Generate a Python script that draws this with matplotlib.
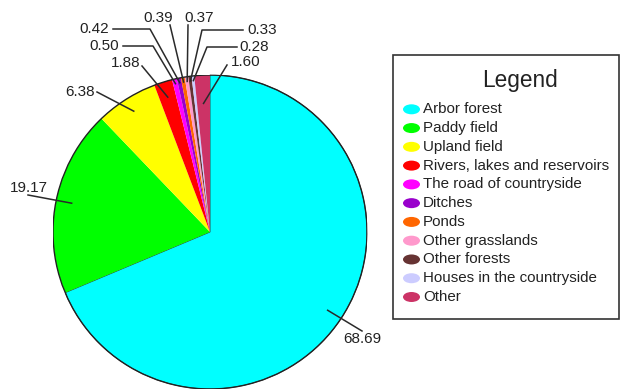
import numpy as np
import matplotlib
matplotlib.use("Agg")
import matplotlib.pyplot as plt
from matplotlib.patches import Ellipse, Rectangle, Circle

plt.rcParams['font.family'] = ['Liberation Sans', 'DejaVu Sans']

# Land-use composition (%)
categories = [
    "Arbor forest", "Paddy field", "Upland field", "Rivers, lakes and reservoirs",
    "The road of countryside", "Ditches", "Ponds", "Other grasslands",
    "Other forests", "Houses in the countryside", "Other",
]
values = [68.69, 19.17, 6.38, 1.88, 0.50, 0.42, 0.39, 0.37, 0.33, 0.28, 1.60]
value_labels = ["68.69", "19.17", "6.38", "1.88", "0.50", "0.42", "0.39",
                "0.37", "0.33", "0.28", "1.60"]
colors = ["#00FFFF", "#00FF00", "#FFFF00", "#FF0000", "#FF00FF", "#9900CC",
          "#FF6600", "#FF99CC", "#663333", "#CCCCFF", "#CC3366"]

W, H = 622, 389
fig = plt.figure(figsize=(W / 100, H / 100), dpi=100)

# Pie axes: centre (210, 232) px, radius 157 px
cx, cy, R = 210, 232, 157
ax = fig.add_axes([(cx - R) / W, 1 - (cy + R) / H, 2 * R / W, 2 * R / H])
ax.axis("off")

wedges, _ = ax.pie(values, colors=colors, startangle=90, counterclock=False,
                   radius=1.0, wedgeprops=dict(linewidth=0))
ax.set_xlim(-1, 1)
ax.set_ylim(-1, 1)
wedges[0].set_edgecolor("#333333")
wedges[0].set_linewidth(0.6)
ax.add_patch(Circle((0, 0), 1.0, fill=False, edgecolor="#222222", linewidth=1.0, zorder=5))

# Overlay in pixel coordinates for labels and legend
ov = fig.add_axes([0, 0, 1, 1], facecolor="none")
ov.set_xlim(0, W)
ov.set_ylim(H, 0)
ov.axis("off")

# Label layout: text centre, optional elbow point, radius of the leader's inner end
label_layout = [
    ((362, 339), None, 0.90),
    ((29, 188), None, 0.90),
    ((80, 92), None, 0.91),
    ((126, 63), None, 0.90),
    ((104, 46), (153, 46), 0.97),
    ((94, 29), (150, 29), 0.97),
    ((158, 18), None, 0.97),
    ((199, 18), None, 0.97),
    ((262, 30), (202, 30), 0.97),
    ((254, 47), (207, 47), 0.97),
    ((246, 62), None, 0.82),
]
leader_start = [
    (362, 331), (28, 195), (97, 92), (142, 66), (123, 46), (113, 29),
    (170, 25), (188, 25), (243, 30), (237, 47), (227, 65),
]

fig.canvas.draw()
to_px = lambda p: ov.transData.inverted().transform(ax.transData.transform(p))

total = sum(values)
cum = 0.0
for i, v in enumerate(values):
    mid = np.deg2rad(90 - 360 * (cum + v / 2) / total)
    cum += v
    (tx, ty), elbow, r_in = label_layout[i]
    inner = to_px((r_in * np.cos(mid), r_in * np.sin(mid)))
    pts = [leader_start[i]]
    if elbow is not None:
        pts.append(elbow)
    pts.append(tuple(inner))
    xs, ys = zip(*pts)
    ov.plot(xs, ys, color="#2a2a2a", linewidth=1.1, zorder=6)
    ov.text(tx, ty, value_labels[i], ha="center", va="center",
            fontsize=11, color="#222222", zorder=7)

# Legend box
ov.add_patch(Rectangle((393, 55), 226, 264, fill=True, facecolor="white",
                       edgecolor="#333333", linewidth=1.2, zorder=3))
ov.text(520, 80, "Legend", ha="center", va="center", fontsize=16.3,
        color="#222222", zorder=4)
y0, dy = 109.3, 18.77
for i, (name, c) in enumerate(zip(categories, colors)):
    y = y0 + i * dy
    ov.add_patch(Ellipse((411.5, y), 17, 10, facecolor=c, edgecolor="none", zorder=4))
    ov.text(423, y, name, ha="left", va="center", fontsize=10.9,
            color="#222222", zorder=4)

fig.savefig("out.png", dpi=100)
